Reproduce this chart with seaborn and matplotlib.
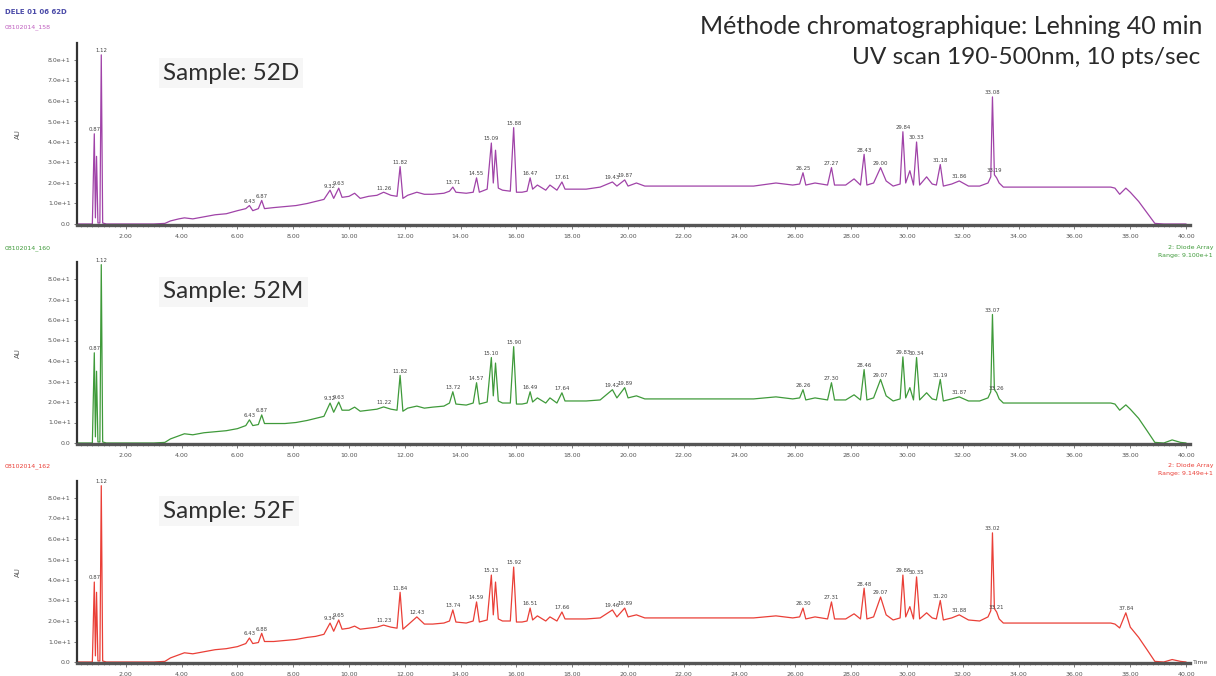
import matplotlib
matplotlib.use("Agg")
import matplotlib.pyplot as plt
from matplotlib.ticker import MultipleLocator, FuncFormatter
import seaborn as sns

# retention time grid (min) shared by the three runs
rt = [0.25, 0.80, 0.87, 0.91, 0.95, 1.00, 1.07, 1.12, 1.17, 1.30,
      2.00, 3.00, 3.40, 3.60, 3.90, 4.10, 4.40, 4.80, 5.20, 5.60,
      6.00, 6.30, 6.43, 6.55, 6.75, 6.87, 6.97, 7.30, 7.70, 8.10,
      8.50, 8.80, 9.10, 9.32, 9.45, 9.63, 9.75, 10.00, 10.20, 10.40,
      10.70, 11.00, 11.24, 11.50, 11.72, 11.83, 11.93, 12.10, 12.43, 12.70,
      13.00, 13.40, 13.60, 13.72, 13.83, 14.20, 14.45, 14.57, 14.67, 14.95,
      15.10, 15.17, 15.25, 15.35, 15.50, 15.78, 15.90, 16.00, 16.20, 16.38,
      16.49, 16.58, 16.75, 17.05, 17.20, 17.45, 17.63, 17.74, 18.00, 18.50,
      19.00, 19.44, 19.60, 19.88, 20.00, 20.30, 20.60, 21.50, 22.50, 23.50,
      24.50, 25.30, 25.90, 26.15, 26.27, 26.37, 26.70, 27.15, 27.29, 27.40,
      27.80, 28.10, 28.33, 28.46, 28.56, 28.80, 29.05, 29.25, 29.50, 29.75,
      29.85, 29.95, 30.10, 30.23, 30.34, 30.45, 30.70, 30.90, 31.05, 31.19,
      31.30, 31.60, 31.87, 32.20, 32.60, 32.90, 33.00, 33.06, 33.13, 33.21,
      33.30, 33.45, 34.00, 35.00, 36.00, 37.00, 37.30, 37.45, 37.62, 37.84,
      38.00, 38.30, 38.60, 38.88, 39.20, 39.50, 39.80, 40.00]

# absorbance (AU)
au_52D = [0, 0, 44, 3, 33, 0.5, 0.5, 82.5, 0.5, 0,
          0, 0, 0.3, 1.5, 2.5, 3, 2.5, 3.5, 4.5, 5,
          6.5, 7.5, 9, 6.5, 7.5, 11.5, 7.5, 8, 8.5, 9,
          10, 11, 12, 16.5, 12.5, 17.5, 13, 13.5, 15, 12.5,
          13.5, 14, 15.5, 14, 13.5, 28, 12.5, 14, 15.5, 14.5,
          14.5, 15, 16, 18, 15.5, 15, 15.5, 22.5, 15.5, 17,
          39.5, 20, 36, 17.5, 16.5, 16, 47, 15.5, 15.5, 16,
          22.5, 17, 19, 16.5, 19, 16.5, 20.5, 17, 17, 17,
          18, 20.5, 18.5, 21.5, 18.5, 20, 18.5, 18.5, 18.5, 18.5,
          18.5, 20, 19, 19.5, 25, 19, 20, 19, 27.5, 19,
          19, 22, 19, 34, 19, 20, 27.5, 21, 18.5, 19.5,
          45, 20, 26, 19, 40, 19, 23, 19.5, 19, 29,
          18.5, 19.5, 21, 18.5, 18.5, 20, 23, 62, 24, 22.5,
          20, 18, 18, 18, 18, 18, 18, 17.5, 14.5, 17.5,
          15.5, 11, 5.5, 0.3, 0, 0, 0, 0]

au_52M = [0, 0, 44, 3, 35, 0.5, 0.5, 87, 0.5, 0,
          0, 0, 0.3, 2, 3.5, 4.5, 4, 5, 5.5, 6,
          7, 8.5, 11.3, 8.5, 9, 13.7, 9.5, 9.5, 9.5, 10,
          11, 12, 13, 19.5, 15, 20, 16, 16, 17.5, 15.5,
          16, 16.5, 17.6, 16.5, 16, 33, 15.5, 17, 18, 17,
          17.5, 18, 19.5, 25, 19, 18.5, 19.5, 29.4, 19, 20,
          41.7, 23, 39, 20.5, 19.5, 19.5, 47, 19, 19, 19.5,
          25, 20, 22, 19.5, 22, 19.5, 24.5, 20.5, 20.5, 20.5,
          21, 26, 22, 27, 22, 23, 21.5, 21.5, 21.5, 21.5,
          21.5, 22.5, 21.5, 22, 26, 21, 22, 21, 29.4, 21,
          21, 23.5, 21, 35.8, 21, 22, 31, 23, 20.5, 21.5,
          42, 22, 27, 21, 41.7, 21, 24.5, 21.5, 21, 31,
          20.5, 21.5, 22.5, 20.5, 20.5, 22, 25, 62.7, 26, 24.5,
          21.5, 19.5, 19.5, 19.5, 19.5, 19.5, 19.5, 19, 16, 18.6,
          16.5, 12, 6, 0.3, 0, 1.5, 0.3, 0]

au_52F = [0, 0, 39, 3, 34, 0.5, 0.5, 86, 0.5, 0,
          0, 0, 0.3, 2, 3.5, 4.5, 4, 5, 6, 6.5,
          7.5, 9, 11.7, 9, 9.5, 14, 10, 10, 10.5, 11,
          12, 12.5, 13.5, 19, 15, 20.5, 16, 16.5, 17.5, 16,
          16.5, 17, 18, 17, 16.5, 34, 16, 18, 22, 18.5,
          18.5, 19, 20, 25.4, 19.5, 19, 20, 29.3, 19.5, 20.5,
          42.4, 23, 39, 21, 20, 20, 46.3, 19.5, 19.5, 20,
          26.3, 20.5, 22.5, 20, 22, 20, 24.4, 21, 21, 21,
          21.5, 25.4, 22, 26.3, 22, 23, 21.5, 21.5, 21.5, 21.5,
          21.5, 22.5, 21.5, 22, 26.3, 21, 22, 21, 29.3, 21,
          21, 23.5, 21, 36, 21, 22, 31.7, 23, 20.5, 21.5,
          42.4, 22, 27, 21, 41.5, 21, 24, 21.5, 21, 30,
          20.5, 21.5, 23, 20.5, 20, 22, 25, 63, 26, 24.4,
          21, 19, 19, 19, 19, 19, 19, 18.5, 16.6, 24,
          17, 12, 6, 0.3, 0, 1.2, 0.3, 0]

# peak annotations (retention times printed by the software)
labels_52D = ["0.87", "1.12", "6.43", "6.87", "9.32", "9.63", "11.26", "11.82", "13.71",
              "14.55", "15.09", "15.88", "16.47", "17.61", "19.43", "19.87", "26.25",
              "27.27", "28.43", "29.00", "29.84", "30.33", "31.18", "31.86", "33.08", "33.19"]
labels_52M = ["0.87", "1.12", "6.43", "6.87", "9.32", "9.63", "11.22", "11.82", "13.72",
              "14.57", "15.10", "15.90", "16.49", "17.64", "19.42", "19.89", "26.26",
              "27.30", "28.46", "29.07", "29.83", "30.34", "31.19", "31.87", "33.07", "33.26"]
labels_52F = ["0.87", "1.12", "6.43", "6.88", "9.34", "9.65", "11.23", "11.84", "12.43",
              "13.74", "14.59", "15.13", "15.92", "16.51", "17.66", "19.46", "19.89",
              "26.30", "27.31", "28.48", "29.07", "29.86", "30.35", "31.20", "31.88",
              "33.02", "33.21", "37.84"]

samples = ["Sample: 52D", "Sample: 52M", "Sample: 52F"]
run_ids = ["08102014_158", "08102014_160", "08102014_162"]
colors = ["#a043a8", "#3f9a3a", "#ea3f37"]

W, H = 1216, 676
sns.set_style("white")
plt.rcParams['font.family'] = ['DejaVu Sans']

fig = plt.figure(figsize=(W / 100, H / 100), dpi=100)

def fx(px):
    return px / W

def fy(py):
    return 1 - py / H

zero_rows = [224, 443, 662]  # pixel row of the 0.0 line in each panel
ylo, yhi = -0.6, 88.5
pp = 2.05  # pixels per AU unit

traces = [au_52D, au_52M, au_52F]
labels = [labels_52D, labels_52M, labels_52F]

for i in range(3):
    z = zero_rows[i]
    bot = z - ylo * pp
    top = z - yhi * pp
    ax = fig.add_axes([fx(77), fy(bot), fx(1190) - fx(77), (bot - top) / H])
    sns.lineplot(x=rt, y=traces[i], ax=ax, color=colors[i], linewidth=0.9,
                 sort=False, estimator=None)
    ax.set_xlim(0.25, 40.14)
    ax.set_ylim(ylo, yhi)

    # peak labels sit on the local apex
    for lab in labels[i]:
        t = float(lab)
        near = [k for k in range(len(rt)) if abs(rt[k] - t) <= 0.07]
        k = max(near, key=lambda j: traces[i][j])
        ax.annotate(lab, (rt[k], traces[i][k]), xytext=(0, 1.2), textcoords="offset points",
                    ha="center", va="bottom", fontsize=3.9, color="#444444")

    for s in ["top", "right"]:
        ax.spines[s].set_visible(False)
    ax.spines["left"].set_color("#333333")
    ax.spines["left"].set_linewidth(1.6)
    ax.spines["bottom"].set_color("#555555")
    ax.spines["bottom"].set_linewidth(2.4)

    ax.xaxis.set_major_locator(MultipleLocator(2))
    ax.xaxis.set_minor_locator(MultipleLocator(0.2))
    ax.xaxis.set_major_formatter(FuncFormatter(lambda v, p: "" if v < 1 or v > 40.5 else f"{v:.2f}"))
    ax.yaxis.set_major_formatter(FuncFormatter(lambda v, p: "0.0" if abs(v) < 1e-9 else f"{v / 10:.1f}e+1"))
    ax.set_yticks([0, 10, 20, 30, 40, 50, 60, 70, 80])
    ax.tick_params(axis="x", which="major", length=3, width=0.6, color="#666666",
                   labelsize=4.5, labelcolor="#555555", pad=3)
    ax.tick_params(axis="x", which="minor", length=1.6, width=0.5, color="#777777")
    ax.tick_params(axis="y", which="major", length=2.5, width=0.6, color="#666666",
                   labelsize=4.5, labelcolor="#555555", pad=2, left=True)
    ax.tick_params(axis="x", bottom=True, which="both")
    ax.set_xlabel("")
    ax.set_ylabel("AU", fontsize=5, color="#555555")
    ax.yaxis.set_label_coords(-0.05, 0.5)
    ax.set_facecolor("none")

    ax.text(fx(163), fy(z - 151), samples[i], transform=fig.transFigure, ha="left", va="center",
            fontsize=17.5, family=["Lato", "DejaVu Sans"], color="#2e2e2e",
            bbox=dict(facecolor="#f6f6f6", edgecolor="none", pad=3))

# instrument header lines
fig.text(fx(5), fy(12), "DELE 01 06 62D", fontsize=5, color="#4a4aa8", fontweight="bold",
         ha="left", va="center")
fig.text(fx(5), fy(27), run_ids[0], fontsize=4.5, color="#c060c0", ha="left", va="center")
fig.text(fx(5), fy(248), run_ids[1], fontsize=4.5, color="#3f9a3a", ha="left", va="center")
fig.text(fx(5), fy(466), run_ids[2], fontsize=4.5, color="#ea3f37", ha="left", va="center")
fig.text(fx(1213), fy(247), "2: Diode Array", fontsize=4.5, color="#3f9a3a", ha="right", va="center")
fig.text(fx(1213), fy(256), "Range: 9.100e+1", fontsize=4.5, color="#3f9a3a", ha="right", va="center")
fig.text(fx(1213), fy(465), "2: Diode Array", fontsize=4.5, color="#ea3f37", ha="right", va="center")
fig.text(fx(1213), fy(474), "Range: 9.149e+1", fontsize=4.5, color="#ea3f37", ha="right", va="center")
fig.text(fx(1193), fy(662), "Time", fontsize=4.5, color="#555555", ha="left", va="center")

fig.text(fx(1202), fy(27), "Méthode chromatographique: Lehning 40 min", ha="right", va="center",
         fontsize=18, family=["Lato", "DejaVu Sans"], color="#2a2a2a")
fig.text(fx(1200), fy(57), "UV scan 190-500nm, 10 pts/sec", ha="right", va="center",
         fontsize=17.6, family=["Lato", "DejaVu Sans"], color="#2a2a2a")

fig.savefig("out.png", dpi=100, facecolor="white")
